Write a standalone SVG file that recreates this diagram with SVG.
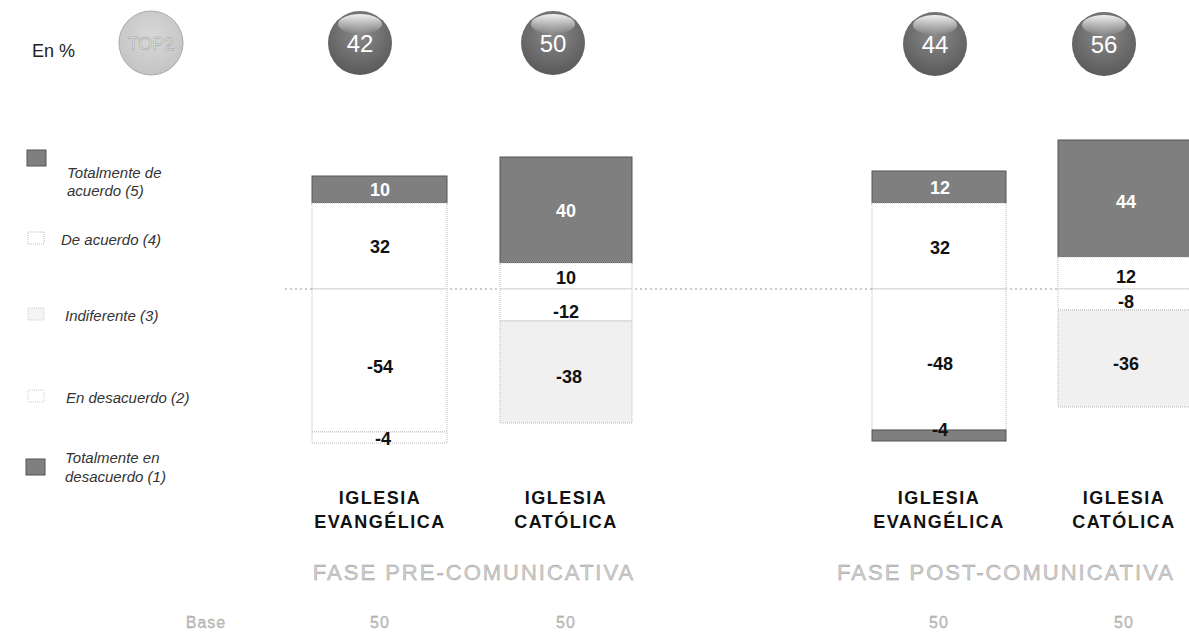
<svg xmlns="http://www.w3.org/2000/svg" width="1189" height="635" viewBox="0 0 1189 635">
<defs>
<radialGradient id="ball" cx="0.5" cy="0.35" r="0.65">
<stop offset="0" stop-color="#8a8a8a"/>
<stop offset="1" stop-color="#5a5a5a"/>
</radialGradient>
<linearGradient id="hl" x1="0" y1="0" x2="0" y2="1">
<stop offset="0" stop-color="#ffffff" stop-opacity="0.9"/>
<stop offset="1" stop-color="#ffffff" stop-opacity="0"/>
</linearGradient>
<radialGradient id="ballL" cx="0.5" cy="0.4" r="0.6">
<stop offset="0" stop-color="#d8d8d8"/>
<stop offset="1" stop-color="#c4c4c4"/>
</radialGradient>
</defs>
<style>
text{font-family:"Liberation Sans",Arial,sans-serif}
.leg{font-size:15px;font-style:italic;fill:#333}
.val{font-size:18px;font-weight:bold;fill:#111;text-anchor:middle}
.valw{font-size:18px;font-weight:bold;fill:#fff;text-anchor:middle}
.ball{font-size:24px;fill:#fff;text-anchor:middle}
.cat{font-size:18px;font-weight:bold;fill:#111;text-anchor:middle;letter-spacing:1.5px}
.phase{font-size:22px;fill:#cfcfcf;stroke:#9a9a9a;stroke-width:0.4;text-anchor:middle;letter-spacing:2px}
.base{font-size:16px;fill:#c4c4c4;stroke:#999;stroke-width:0.3;text-anchor:middle;letter-spacing:1px}
.dark{fill:#7f7f7f;stroke:#555;stroke-width:1}
.white{fill:#fff;stroke:#bbb;stroke-width:1;stroke-dasharray:1 1}
.light{fill:#f0f0f0;stroke:#bbb;stroke-width:1;stroke-dasharray:1 1}
</style>
<rect width="1189" height="635" fill="#fff"/>

<text x="32" y="57" font-size="18" fill="#222">En %</text>

<g id="ball-total">
<circle cx="151" cy="43" r="32" fill="url(#ballL)" stroke="#aaa" stroke-width="1"/>
<text x="151" y="50" font-size="18" fill="#e8e8e8" stroke="#999" stroke-width="0.5" text-anchor="middle">TOP2</text>
</g>
<g id="ball-1"><circle cx="360" cy="43" r="32" fill="url(#ball)"/><ellipse cx="360" cy="24" rx="22" ry="10" fill="url(#hl)"/><text class="ball" x="360" y="52">42</text></g>
<g id="ball-2"><circle cx="553" cy="43" r="32" fill="url(#ball)"/><ellipse cx="553" cy="24" rx="22" ry="10" fill="url(#hl)"/><text class="ball" x="553" y="52">50</text></g>
<g id="ball-3"><circle cx="935" cy="44" r="32" fill="url(#ball)"/><ellipse cx="935" cy="25" rx="22" ry="10" fill="url(#hl)"/><text class="ball" x="935" y="53">44</text></g>
<g id="ball-4"><circle cx="1104" cy="44" r="32" fill="url(#ball)"/><ellipse cx="1104" cy="25" rx="22" ry="10" fill="url(#hl)"/><text class="ball" x="1104" y="53">56</text></g>

<g id="legend">
<rect x="27" y="150" width="19" height="16" class="dark"/>
<text class="leg" x="67" y="178">Totalmente de</text>
<text class="leg" x="67" y="196">acuerdo (5)</text>
<rect x="28" y="232" width="16" height="12" fill="#fff" stroke="#bbb" stroke-dasharray="1 1"/>
<text class="leg" x="61" y="245">De acuerdo (4)</text>
<rect x="28" y="308" width="16" height="12" fill="#f4f4f4" stroke="#ccc" stroke-dasharray="1 1"/>
<text class="leg" x="65" y="321">Indiferente (3)</text>
<rect x="28" y="390" width="16" height="12" fill="#fff" stroke="#ccc" stroke-dasharray="1 1"/>
<text class="leg" x="66" y="403">En desacuerdo (2)</text>
<rect x="26" y="459" width="19" height="16" class="dark"/>
<text class="leg" x="65" y="463">Totalmente en</text>
<text class="leg" x="65" y="482">desacuerdo (1)</text>
</g>

<g id="connectors">
<line x1="285" y1="289" x2="1189" y2="289" stroke="#999" stroke-width="1" stroke-dasharray="2 3"/>
</g>

<g id="bar-evangelica-pre">
<rect x="312" y="176" width="135" height="27" class="dark"/>
<rect x="312" y="203" width="135" height="86" class="white"/>
<rect x="312" y="289" width="135" height="143" class="white"/>
<rect x="312" y="432" width="135" height="11" class="white"/>
<text class="valw" x="380" y="196">10</text>
<text class="val" x="380" y="253">32</text>
<text class="val" x="380" y="373">-54</text>
<text class="val" x="383" y="445">-4</text>
</g>

<g id="bar-catolica-pre">
<rect x="500" y="157" width="132" height="106" class="dark"/>
<rect x="500" y="263" width="132" height="26" class="white"/>
<rect x="500" y="289" width="132" height="32" class="white"/>
<rect x="500" y="321" width="132" height="102" class="light"/>
<text class="valw" x="566" y="217">40</text>
<text class="val" x="566" y="284">10</text>
<text class="val" x="566" y="318">-12</text>
<text class="val" x="569" y="383">-38</text>
</g>

<g id="bar-evangelica-post">
<rect x="872" y="171" width="134" height="32" class="dark"/>
<rect x="872" y="203" width="134" height="86" class="white"/>
<rect x="872" y="289" width="134" height="141" class="white"/>
<rect x="872" y="430" width="134" height="11" class="dark"/>
<text class="valw" x="940" y="194">12</text>
<text class="val" x="940" y="254">32</text>
<text class="val" x="940" y="370">-48</text>
<text class="val" x="940" y="436">-4</text>
</g>

<g id="bar-catolica-post">
<rect x="1058" y="140" width="140" height="117" class="dark"/>
<rect x="1058" y="257" width="140" height="32" class="white"/>
<rect x="1058" y="289" width="140" height="21" class="white"/>
<rect x="1058" y="310" width="140" height="97" class="light"/>
<text class="valw" x="1126" y="208">44</text>
<text class="val" x="1126" y="283">12</text>
<text class="val" x="1126" y="308">-8</text>
<text class="val" x="1126" y="370">-36</text>
</g>

<g id="labels">
<text class="cat" x="380" y="504">IGLESIA</text>
<text class="cat" x="380" y="528">EVANGÉLICA</text>
<text class="cat" x="566" y="504">IGLESIA</text>
<text class="cat" x="566" y="528">CATÓLICA</text>
<text class="cat" x="939" y="504">IGLESIA</text>
<text class="cat" x="939" y="528">EVANGÉLICA</text>
<text class="cat" x="1124" y="504">IGLESIA</text>
<text class="cat" x="1124" y="528">CATÓLICA</text>
<text class="phase" x="474" y="580">FASE PRE-COMUNICATIVA</text>
<text class="phase" x="1006" y="580">FASE POST-COMUNICATIVA</text>
<text class="base" x="206" y="628">Base</text>
<text class="base" x="380" y="628">50</text>
<text class="base" x="566" y="628">50</text>
<text class="base" x="939" y="628">50</text>
<text class="base" x="1124" y="628">50</text>
</g>
</svg>
